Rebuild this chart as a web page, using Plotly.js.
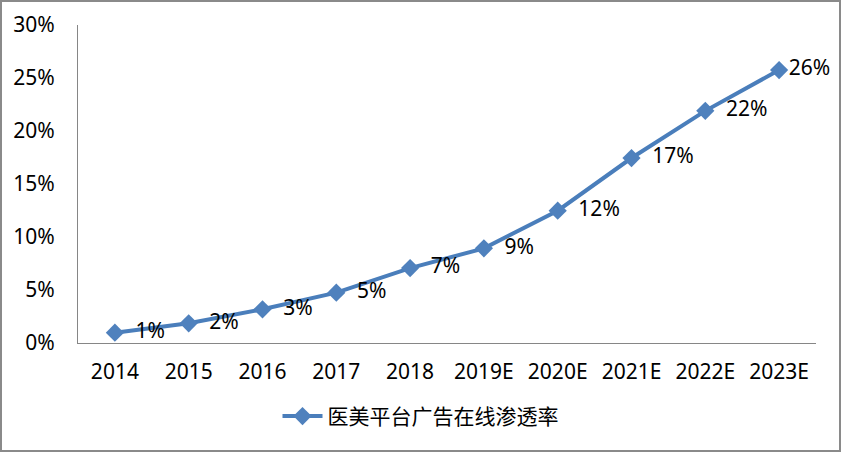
<!DOCTYPE html>
<html>
<head>
<meta charset="utf-8">
<script src="https://cdn.plot.ly/plotly-3.0.1.min.js"></script>
<style>
  body { margin: 0; background: #fff; }
  #chart { width: 841px; height: 452px; box-sizing: border-box; border: 2px solid #8a8a8a; }
</style>
</head>
<body>
<div id="chart"></div>
<script>
  var years = ["2014", "2015", "2016", "2017", "2018", "2019E", "2020E", "2021E", "2022E", "2023E"];
  var rates = [0.0097, 0.0186, 0.0318, 0.0475, 0.0707, 0.0893, 0.1248, 0.1745, 0.2190, 0.2575];
  var seriesName = "医美平台广告在线渗透率";
  var yTicks = [0, 0.05, 0.10, 0.15, 0.20, 0.25, 0.30];

  var baseFont = "'Noto Sans', 'Noto Sans CJK SC', sans-serif";

  // a bit of padding before each label, except the last one which sits at the edge
  var labelFmt = years.map(function (y, i) {
    return i === years.length - 1 ? "%{y:.0%}" : "\u00a0\u00a0%{y:.0%}";
  });

  var data = [
    {
      x: years,
      y: rates,
      name: seriesName,
      type: "scatter",
      mode: "lines+markers+text",
      line: { color: "#4a7ebb", width: 4 },
      marker: { symbol: "diamond", size: 14, color: "#4f81bd" },
      texttemplate: labelFmt,
      textposition: "middle right",
      textfont: { size: 21, color: "#000", family: baseFont },
      cliponaxis: false,
      hoverinfo: "skip"
    }
  ];

  var layout = {
    width: 837,
    height: 448,
    margin: { l: 76, r: 23, t: 23, b: 107 },
    paper_bgcolor: "#fff",
    plot_bgcolor: "#fff",
    font: { family: baseFont, color: "#000" },
    showlegend: true,
    xaxis: {
      type: "category",
      range: [-0.5, 9.5],
      showgrid: false,
      zeroline: false,
      showline: true,
      linecolor: "#868686",
      linewidth: 1,
      ticks: "",
      ticklabelstandoff: 10,
      tickfont: { size: 21 },
      fixedrange: true
    },
    yaxis: {
      range: [0, 0.30],
      tickvals: yTicks,
      tickformat: ".0%",
      showgrid: false,
      zeroline: false,
      showline: true,
      linecolor: "#868686",
      linewidth: 1,
      ticks: "",
      ticklabelstandoff: 18,
      tickfont: { size: 21 },
      fixedrange: true
    },
    legend: {
      orientation: "h",
      xref: "container",
      yref: "container",
      x: 0.5,
      xanchor: "center",
      y: 0.075,
      yanchor: "middle",
      font: { size: 21 },
      itemwidth: 40
    }
  };

  Plotly.newPlot("chart", data, layout, { displayModeBar: false, staticPlot: true });
</script>
</body>
</html>
